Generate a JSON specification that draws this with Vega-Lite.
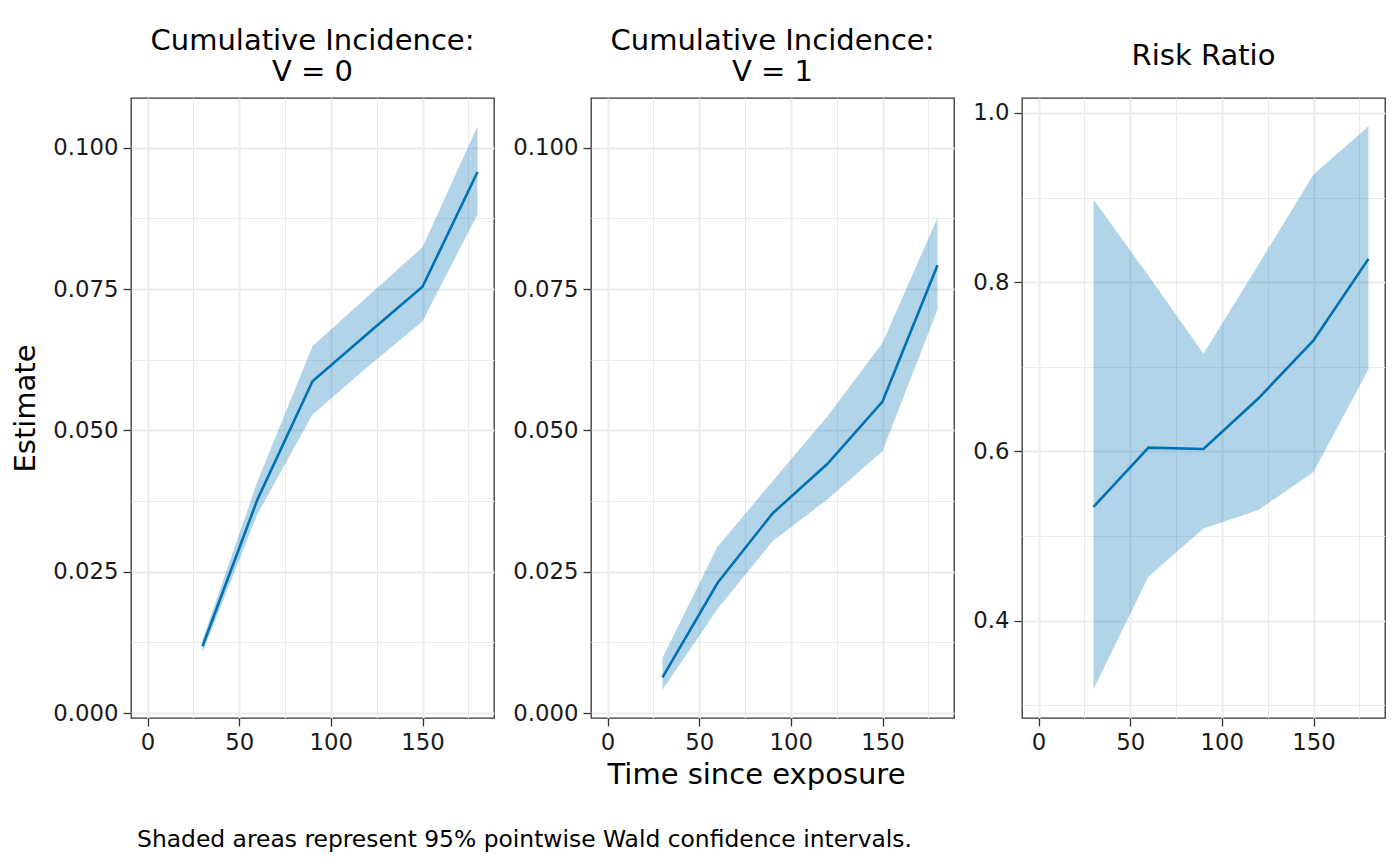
{
  "$schema": "https://vega.github.io/schema/vega-lite/v6.json",
  "background": "white",
  "padding": {"left": 11, "top": 25, "right": 0, "bottom": 0},
  "spacing": 17,
  "data": {"values": [
    {"panel": "V0", "time": 30, "est": 0.0118, "lo": 0.0107, "hi": 0.0129},
    {"panel": "V0", "time": 60, "est": 0.0378, "lo": 0.0352, "hi": 0.0410},
    {"panel": "V0", "time": 90, "est": 0.0587, "lo": 0.0528, "hi": 0.0649},
    {"panel": "V0", "time": 120, "est": 0.0671, "lo": 0.0612, "hi": 0.0737},
    {"panel": "V0", "time": 150, "est": 0.0754, "lo": 0.0693, "hi": 0.0824},
    {"panel": "V0", "time": 180, "est": 0.0957, "lo": 0.0882, "hi": 0.1038},
    {"panel": "V1", "time": 30, "est": 0.0063, "lo": 0.0041, "hi": 0.0098},
    {"panel": "V1", "time": 60, "est": 0.0230, "lo": 0.0184, "hi": 0.0294},
    {"panel": "V1", "time": 90, "est": 0.0353, "lo": 0.0304, "hi": 0.0410},
    {"panel": "V1", "time": 120, "est": 0.0441, "lo": 0.0378, "hi": 0.0525},
    {"panel": "V1", "time": 150, "est": 0.0551, "lo": 0.0463, "hi": 0.0655},
    {"panel": "V1", "time": 180, "est": 0.0792, "lo": 0.0714, "hi": 0.0876},
    {"panel": "RR", "time": 30, "est": 0.5345, "lo": 0.3192, "hi": 0.8978},
    {"panel": "RR", "time": 60, "est": 0.6045, "lo": 0.4522, "hi": 0.8075},
    {"panel": "RR", "time": 90, "est": 0.6029, "lo": 0.5089, "hi": 0.7155},
    {"panel": "RR", "time": 120, "est": 0.6628, "lo": 0.5309, "hi": 0.8210},
    {"panel": "RR", "time": 150, "est": 0.7313, "lo": 0.5758, "hi": 0.9273},
    {"panel": "RR", "time": 180, "est": 0.8276, "lo": 0.6970, "hi": 0.9843}
  ]},
  "config": {
    "font": "DejaVu Sans",
    "view": {"stroke": "#333333", "strokeWidth": 1.3},
    "axis": {
      "domain": false,
      "labelFont": "DejaVu Sans",
      "labelFontSize": 22.8,
      "labelColor": "#1a1a1a",
      "labelPadding": 5,
      "tickColor": "#333333",
      "tickWidth": 1.3,
      "tickSize": 8,
      "gridColor": "#EBEBEB",
      "titleFont": "DejaVu Sans",
      "titleFontSize": 29,
      "titleFontWeight": "normal",
      "titleColor": "#000000"
    },
    "title": {
      "font": "DejaVu Sans",
      "fontSize": 29,
      "fontWeight": "normal",
      "color": "#000000",
      "anchor": "middle",
      "lineHeight": 31.5,
      "offset": 11
    }
  },
  "title": {
    "text": "Shaded areas represent 95% pointwise Wald confidence intervals.",
    "orient": "bottom",
    "anchor": "start",
    "fontSize": 23.4,
    "lineHeight": 23.4,
    "dx": 126,
    "offset": 39
  },
  "hconcat": [
    {
      "width": 363,
      "height": 620,
      "title": {"text": ["Cumulative Incidence:", "V = 0"]},
      "transform": [{"filter": "datum.panel === 'V0'"}],
      "encoding": {
        "x": {"field": "time", "type": "quantitative",
          "scale": {"domain": [-9, 189], "nice": false, "zero": false},
          "axis": {"title": null, "values": [0, 25, 50, 75, 100, 125, 150, 175],
            "labelExpr": "datum.value % 50 === 0 ? datum.label : ''",
            "tickOpacity": {"condition": {"test": "datum.value % 50 === 0", "value": 1}, "value": 0},
            "gridWidth": {"condition": {"test": "datum.value % 50 === 0", "value": 2}, "value": 1}}}
      },
      "layer": [
        {
          "mark": {"type": "area", "color": "#0072B2", "opacity": 0.3},
          "encoding": {
            "y": {"field": "lo", "type": "quantitative",
              "scale": {"domain": [-0.00088, 0.1088], "nice": false, "zero": false},
              "axis": {"title": "Estimate", "titlePadding": 12,
                "values": [0, 0.0125, 0.025, 0.0375, 0.05, 0.0625, 0.075, 0.0875, 0.1],
                "labelExpr": "abs(datum.value*40 - round(datum.value*40)) < 0.001 ? format(datum.value, '.3f') : ''",
                "tickOpacity": {"condition": {"test": "abs(datum.value*40 - round(datum.value*40)) < 0.001", "value": 1}, "value": 0},
                "gridWidth": {"condition": {"test": "abs(datum.value*40 - round(datum.value*40)) < 0.001", "value": 2}, "value": 1}}},
            "y2": {"field": "hi"}
          }
        },
        {
          "mark": {"type": "line", "color": "#0072B2", "strokeWidth": 2.6},
          "encoding": {
            "y": {"field": "est", "type": "quantitative",
              "scale": {"domain": [-0.00088, 0.1088], "nice": false, "zero": false},
              "axis": {"title": "Estimate", "titlePadding": 12,
                "values": [0, 0.0125, 0.025, 0.0375, 0.05, 0.0625, 0.075, 0.0875, 0.1],
                "labelExpr": "abs(datum.value*40 - round(datum.value*40)) < 0.001 ? format(datum.value, '.3f') : ''",
                "tickOpacity": {"condition": {"test": "abs(datum.value*40 - round(datum.value*40)) < 0.001", "value": 1}, "value": 0},
                "gridWidth": {"condition": {"test": "abs(datum.value*40 - round(datum.value*40)) < 0.001", "value": 2}, "value": 1}}}
          }
        }
      ]
    },
    {
      "width": 363,
      "height": 620,
      "title": {"text": ["Cumulative Incidence:", "V = 1"]},
      "transform": [{"filter": "datum.panel === 'V1'"}],
      "encoding": {
        "x": {"field": "time", "type": "quantitative",
          "scale": {"domain": [-9, 189], "nice": false, "zero": false},
          "axis": {"title": "Time since exposure", "titlePadding": 7, "titleX": 165,
            "values": [0, 25, 50, 75, 100, 125, 150, 175],
            "labelExpr": "datum.value % 50 === 0 ? datum.label : ''",
            "tickOpacity": {"condition": {"test": "datum.value % 50 === 0", "value": 1}, "value": 0},
            "gridWidth": {"condition": {"test": "datum.value % 50 === 0", "value": 2}, "value": 1}}}
      },
      "layer": [
        {
          "mark": {"type": "area", "color": "#0072B2", "opacity": 0.3},
          "encoding": {
            "y": {"field": "lo", "type": "quantitative",
              "scale": {"domain": [-0.00088, 0.1088], "nice": false, "zero": false},
              "axis": {"title": null,
                "values": [0, 0.0125, 0.025, 0.0375, 0.05, 0.0625, 0.075, 0.0875, 0.1],
                "labelExpr": "abs(datum.value*40 - round(datum.value*40)) < 0.001 ? format(datum.value, '.3f') : ''",
                "tickOpacity": {"condition": {"test": "abs(datum.value*40 - round(datum.value*40)) < 0.001", "value": 1}, "value": 0},
                "gridWidth": {"condition": {"test": "abs(datum.value*40 - round(datum.value*40)) < 0.001", "value": 2}, "value": 1}}},
            "y2": {"field": "hi"}
          }
        },
        {
          "mark": {"type": "line", "color": "#0072B2", "strokeWidth": 2.6},
          "encoding": {
            "y": {"field": "est", "type": "quantitative",
              "scale": {"domain": [-0.00088, 0.1088], "nice": false, "zero": false},
              "axis": {"title": null,
                "values": [0, 0.0125, 0.025, 0.0375, 0.05, 0.0625, 0.075, 0.0875, 0.1],
                "labelExpr": "abs(datum.value*40 - round(datum.value*40)) < 0.001 ? format(datum.value, '.3f') : ''",
                "tickOpacity": {"condition": {"test": "abs(datum.value*40 - round(datum.value*40)) < 0.001", "value": 1}, "value": 0},
                "gridWidth": {"condition": {"test": "abs(datum.value*40 - round(datum.value*40)) < 0.001", "value": 2}, "value": 1}}}
          }
        }
      ]
    },
    {
      "width": 363,
      "height": 620,
      "title": {"text": ["", "Risk Ratio", ""], "lineHeight": 16},
      "transform": [{"filter": "datum.panel === 'RR'"}],
      "encoding": {
        "x": {"field": "time", "type": "quantitative",
          "scale": {"domain": [-9, 189], "nice": false, "zero": false},
          "axis": {"title": null, "values": [0, 25, 50, 75, 100, 125, 150, 175],
            "labelExpr": "datum.value % 50 === 0 ? datum.label : ''",
            "tickOpacity": {"condition": {"test": "datum.value % 50 === 0", "value": 1}, "value": 0},
            "gridWidth": {"condition": {"test": "datum.value % 50 === 0", "value": 2}, "value": 1}}}
      },
      "layer": [
        {
          "mark": {"type": "area", "color": "#0072B2", "opacity": 0.3},
          "encoding": {
            "y": {"field": "lo", "type": "quantitative",
              "scale": {"domain": [0.285, 1.0177], "nice": false, "zero": false},
              "axis": {"title": null,
                "values": [0.3, 0.4, 0.5, 0.6, 0.7, 0.8, 0.9, 1.0],
                "labelExpr": "abs(datum.value*5 - round(datum.value*5)) < 0.001 ? format(datum.value, '.1f') : ''",
                "tickOpacity": {"condition": {"test": "abs(datum.value*5 - round(datum.value*5)) < 0.001", "value": 1}, "value": 0},
                "gridWidth": {"condition": {"test": "abs(datum.value*5 - round(datum.value*5)) < 0.001", "value": 2}, "value": 1}}},
            "y2": {"field": "hi"}
          }
        },
        {
          "mark": {"type": "line", "color": "#0072B2", "strokeWidth": 2.6},
          "encoding": {
            "y": {"field": "est", "type": "quantitative",
              "scale": {"domain": [0.285, 1.0177], "nice": false, "zero": false},
              "axis": {"title": null,
                "values": [0.3, 0.4, 0.5, 0.6, 0.7, 0.8, 0.9, 1.0],
                "labelExpr": "abs(datum.value*5 - round(datum.value*5)) < 0.001 ? format(datum.value, '.1f') : ''",
                "tickOpacity": {"condition": {"test": "abs(datum.value*5 - round(datum.value*5)) < 0.001", "value": 1}, "value": 0},
                "gridWidth": {"condition": {"test": "abs(datum.value*5 - round(datum.value*5)) < 0.001", "value": 2}, "value": 1}}}
          }
        }
      ]
    }
  ]
}
